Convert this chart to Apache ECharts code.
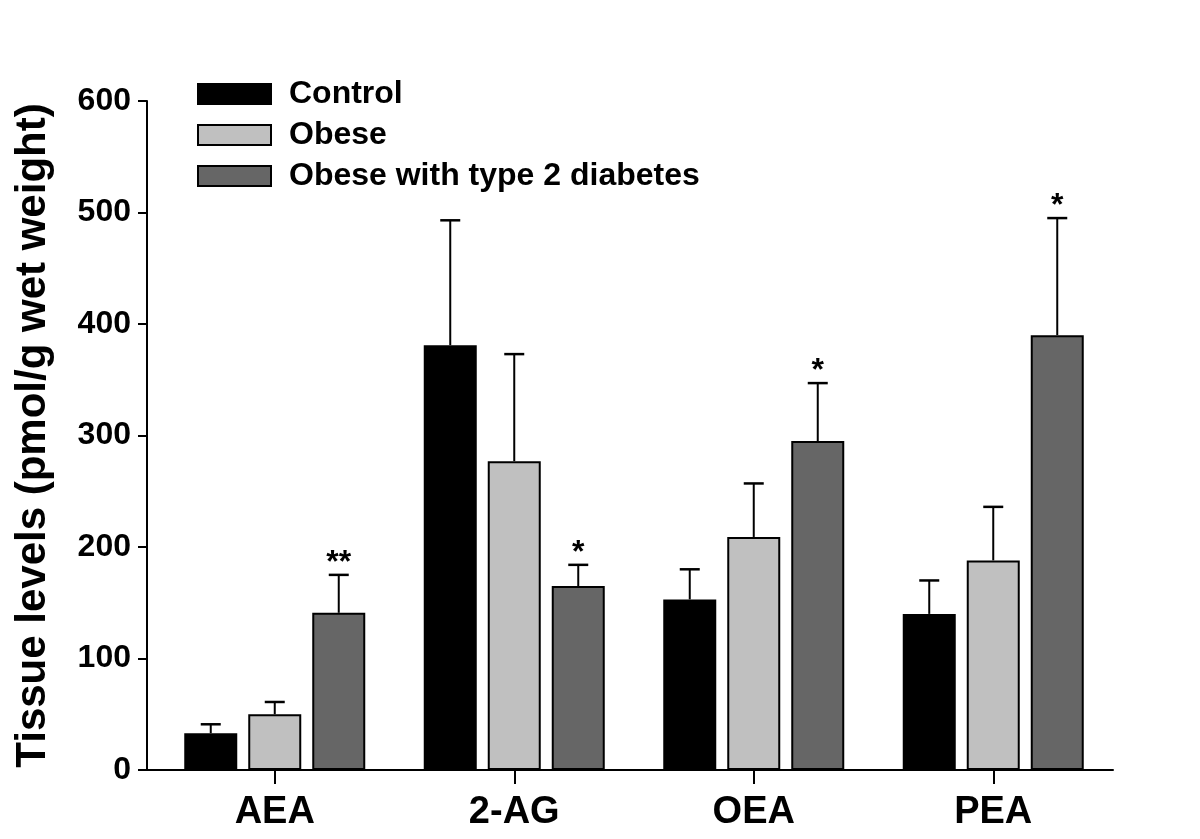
<!DOCTYPE html>
<html>
<head>
<meta charset="utf-8">
<script src="https://cdn.jsdelivr.net/npm/echarts@6/dist/echarts.min.js"></script>
<style>
html,body{margin:0;padding:0;background:#fff;}
#chart{width:1200px;height:839px;}
</style>
</head>
<body>
<div id="chart"></div>
<script>
const categories = ['AEA', '2-AG', 'OEA', 'PEA'];
const seriesNames = ['Control', 'Obese', 'Obese with type 2 diabetes'];
const controlValues = [33, 381, 153, 140];
const controlErrors = [8, 112, 27, 30];
const obeseValues = [50, 277, 209, 188];
const obeseErrors = [11, 96, 48, 48];
const diabetesValues = [141, 165, 295, 390];
const diabetesErrors = [34, 19, 52, 105];
const diabetesSignificance = ['**', '*', '*', '*'];
const yTicks = [0, 100, 200, 300, 400, 500, 600];

const FONT = '"Liberation Sans", Arial, sans-serif';
const colors = ['#000000', '#c0c0c0', '#666666'];
const values = [controlValues, obeseValues, diabetesValues];
const errors = [controlErrors, obeseErrors, diabetesErrors];
const marks = [null, null, diabetesSignificance];

const BAR_W = 53, BAR_GAP = 11;

const chart = echarts.init(document.getElementById('chart'), null, {renderer: 'canvas'});

const barSeries = seriesNames.map((name, i) => ({
  name: name,
  type: 'bar',
  xAxisIndex: 1,
  yAxisIndex: 1,
  data: values[i],
  barWidth: BAR_W,
  barGap: (BAR_GAP / BAR_W * 100) + '%',
  itemStyle: {color: colors[i], borderColor: '#000', borderWidth: 2},
  emphasis: {disabled: true},
  z: 3
}));

const errSeries = seriesNames.map((name, i) => ({
  type: 'custom',
  xAxisIndex: 1,
  yAxisIndex: 1,
  data: values[i].map((v, k) => [k, v, v + errors[i][k]]),
  z: 2,
  silent: true,
  renderItem: function (params, api) {
    const k = api.value(0);
    const base = api.coord([k, api.value(1)]);
    const top = api.coord([k, api.value(2)]);
    const x = base[0] + (i - 1) * (BAR_W + BAR_GAP);
    const cap = 10;
    const children = [
      {type: 'line', shape: {x1: x, y1: base[1], x2: x, y2: top[1]}, style: {stroke: '#000', lineWidth: 2}},
      {type: 'line', shape: {x1: x - cap, y1: top[1], x2: x + cap, y2: top[1]}, style: {stroke: '#000', lineWidth: 2.5}}
    ];
    const m = marks[i] ? marks[i][k] : '';
    if (m) {
      children.push({
        type: 'text',
        style: {
          text: m, x: x, y: top[1] + 4,
          align: 'center', verticalAlign: 'bottom',
          font: 'bold 32px ' + FONT, fill: '#000'
        }
      });
    }
    return {type: 'group', children: children};
  }
}));

chart.setOption({
  animation: false,
  backgroundColor: '#fff',
  legend: {
    orient: 'vertical',
    left: 197,
    top: 78,
    padding: 0,
    itemWidth: 73,
    itemHeight: 20,
    itemGap: 9,
    icon: 'rect',
    data: seriesNames,
    textStyle: {fontFamily: FONT, fontSize: 32, fontWeight: 'bold', color: '#000', padding: [0, 0, 0, 13]},
    selectedMode: false
  },
  grid: [
    {left: 147, right: 87, top: 101, bottom: 69, containLabel: false, outerBoundsMode: 'none'},
    {left: 155, right: 87, top: 101, bottom: 69, containLabel: false, outerBoundsMode: 'none'}
  ],
  xAxis: [
    {
      gridIndex: 0, type: 'value', min: 0, max: 1,
      axisLine: {show: true, lineStyle: {color: '#000', width: 2}},
      axisTick: {show: false}, axisLabel: {show: false}, splitLine: {show: false}
    },
    {
      gridIndex: 1, type: 'category', data: categories,
      axisLine: {show: false},
      axisTick: {show: true, alignWithLabel: true, inside: false, length: 14, lineStyle: {color: '#000', width: 2}},
      axisLabel: {fontFamily: FONT, fontSize: 38, fontWeight: 'bold', color: '#000', margin: 24},
      splitLine: {show: false}
    }
  ],
  yAxis: [
    {
      gridIndex: 0, type: 'value', min: yTicks[0], max: yTicks[yTicks.length - 1], interval: yTicks[1] - yTicks[0],
      name: 'Tissue levels (pmol/g wet weight)',
      nameLocation: 'middle', nameGap: 93,
      nameTextStyle: {fontFamily: FONT, fontSize: 42, fontWeight: 'bold', color: '#000'},
      axisLine: {show: true, lineStyle: {color: '#000', width: 2}},
      axisTick: {show: true, length: 9, lineStyle: {color: '#000', width: 2}},
      axisLabel: {fontFamily: FONT, fontSize: 32, fontWeight: 'bold', color: '#000', margin: 16},
      splitLine: {show: false}
    },
    {
      gridIndex: 1, type: 'value', min: yTicks[0], max: yTicks[yTicks.length - 1],
      show: false, splitLine: {show: false}
    }
  ],
  series: barSeries.concat(errSeries)
});
</script>
</body>
</html>
